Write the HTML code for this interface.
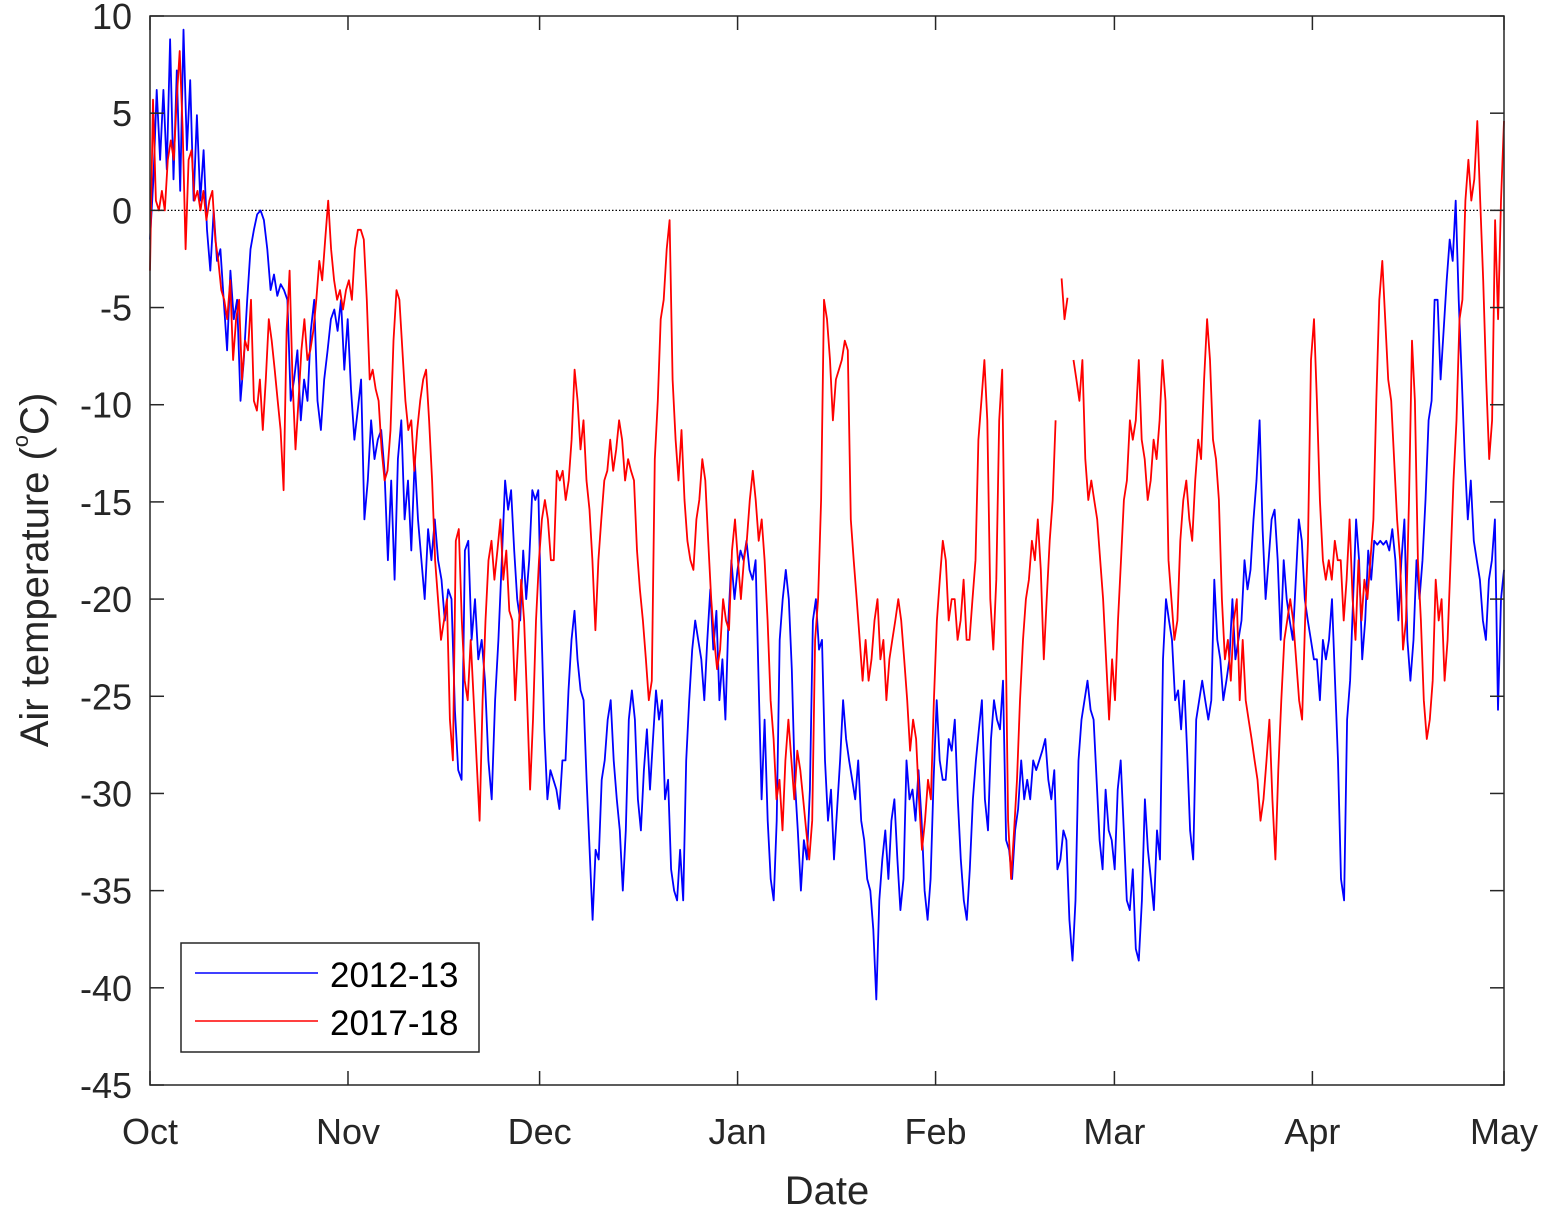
<!DOCTYPE html>
<html><head><meta charset="utf-8"><style>
html,body{margin:0;padding:0;background:#fff;}
svg{display:block;font-family:"Liberation Sans",Arial,sans-serif;}
</style></head><body>
<svg id="chart" width="1544" height="1207" viewBox="0 0 1544 1207" xmlns="http://www.w3.org/2000/svg">
<rect x="0" y="0" width="1544" height="1207" fill="#fff"/>
<g id="plot"></g>
<g id="axes"></g>
</svg>
<script>
const monthLabels = ["Oct","Nov","Dec","Jan","Feb","Mar","Apr","May"];
const monthDays = [0,31,61,92,123,151,182,212];
const yTicks = [10,5,0,-5,-10,-15,-20,-25,-30,-35,-40,-45];
const seriesNames = ["2012-13","2017-18"];
const blueTemps = [-1.5,1.6,6.2,2.6,6.2,2.1,8.8,1.6,7.2,1.0,9.3,3.1,6.7,0.5,4.9,0.5,3.1,-1.0,-3.1,0,-2.6,-2.0,-4.6,-7.2,-3.1,-5.6,-4.6,-9.8,-7.7,-4.6,-2.0,-1.0,-0.2,0,-0.5,-2.0,-4.1,-3.3,-4.4,-3.8,-4.1,-4.6,-9.8,-8.7,-7.2,-10.8,-8.7,-9.8,-6.2,-4.6,-9.8,-11.3,-8.7,-7.2,-5.6,-5.1,-6.2,-4.6,-8.2,-5.6,-9.2,-11.8,-10.3,-8.7,-15.9,-13.9,-10.8,-12.8,-11.8,-11.3,-13.4,-18.0,-13.9,-19.0,-12.8,-10.8,-15.9,-13.9,-17.5,-12.8,-15.9,-18.0,-20.0,-16.4,-18.0,-15.9,-18.0,-19.0,-21.1,-19.5,-20.0,-25.7,-28.8,-29.3,-17.5,-17.0,-22.1,-20.0,-23.1,-22.1,-24.2,-28.3,-30.3,-25.2,-22.1,-18.0,-13.9,-15.4,-14.4,-17.5,-20.0,-21.1,-17.5,-20.0,-18.0,-14.4,-14.9,-14.4,-21.1,-26.7,-30.3,-28.8,-29.3,-29.8,-30.8,-28.3,-28.3,-24.7,-22.1,-20.6,-23.1,-24.7,-25.2,-29.3,-32.9,-36.5,-32.9,-33.4,-29.3,-28.3,-26.2,-25.2,-28.3,-30.3,-31.9,-35.0,-31.9,-26.2,-24.7,-26.2,-30.3,-31.9,-28.8,-26.7,-29.8,-27.2,-24.7,-26.2,-25.2,-30.3,-29.3,-33.9,-35.0,-35.5,-32.9,-35.5,-28.3,-25.2,-22.6,-21.1,-22.1,-23.1,-25.2,-22.1,-19.5,-22.6,-20.6,-25.2,-23.1,-26.2,-21.1,-18.0,-20.0,-18.5,-17.5,-18.0,-17.0,-18.5,-19.0,-18.0,-24.2,-30.3,-26.2,-31.4,-34.4,-35.5,-31.4,-22.1,-20.0,-18.5,-20.0,-23.6,-29.3,-31.9,-35.0,-32.4,-33.4,-29.8,-21.1,-20.0,-22.6,-22.1,-28.3,-31.4,-29.8,-33.4,-30.8,-28.3,-25.2,-27.2,-28.3,-29.3,-30.3,-28.3,-31.4,-32.4,-34.4,-35.0,-37.0,-40.6,-35.5,-33.4,-31.9,-34.4,-31.4,-30.3,-33.4,-36.0,-34.4,-28.3,-30.3,-29.8,-31.4,-28.8,-31.4,-35.0,-36.5,-34.4,-29.3,-25.2,-28.3,-29.3,-29.3,-27.2,-27.8,-26.2,-30.3,-33.4,-35.5,-36.5,-33.9,-30.3,-28.3,-26.7,-25.2,-30.3,-31.9,-27.2,-25.2,-26.2,-26.7,-24.2,-32.4,-32.9,-34.4,-31.9,-30.8,-28.3,-30.3,-29.3,-30.3,-28.3,-28.8,-28.3,-27.8,-27.2,-29.3,-30.3,-28.8,-33.9,-33.4,-31.9,-32.4,-36.5,-38.6,-35.5,-28.3,-26.2,-25.2,-24.2,-25.7,-26.2,-29.3,-32.4,-33.9,-29.8,-31.9,-32.4,-33.9,-29.8,-28.3,-31.9,-35.5,-36.0,-33.9,-38.0,-38.6,-35.5,-30.3,-32.9,-34.4,-36.0,-31.9,-33.4,-23.1,-20.0,-21.1,-22.1,-25.2,-24.7,-26.7,-24.2,-27.8,-31.9,-33.4,-26.2,-25.2,-24.2,-25.2,-26.2,-25.2,-19.0,-22.1,-23.1,-25.2,-24.2,-23.1,-20.0,-23.1,-22.1,-21.1,-18.0,-19.5,-18.5,-15.9,-13.9,-10.8,-16.4,-20.0,-18.0,-15.9,-15.4,-18.0,-22.1,-18.0,-20.0,-21.1,-22.1,-19.0,-15.9,-17.0,-20.0,-21.1,-22.1,-23.1,-23.1,-25.2,-22.1,-23.1,-22.1,-20.0,-24.2,-28.3,-34.4,-35.5,-26.2,-24.2,-20.0,-15.9,-18.0,-23.1,-21.1,-17.5,-19.0,-17.0,-17.2,-17.0,-17.2,-17.0,-17.5,-16.4,-18.0,-21.1,-18.0,-15.9,-22.1,-24.2,-22.1,-18.0,-20.0,-18.0,-14.9,-10.8,-9.8,-4.6,-4.6,-8.7,-6.2,-3.6,-1.5,-2.6,0.5,-4.6,-8.7,-12.8,-15.9,-13.9,-17.0,-18.0,-19.0,-21.1,-22.1,-19.0,-18.0,-15.9,-25.7,-20.0,-18.5];
const redTemps = [-3.1,5.7,0.5,0,1.0,0,2.6,3.6,2.6,5.7,8.2,4.1,-2.0,2.6,3.1,0.5,1.0,0,1.0,-0.5,0.5,1.0,-1.5,-2.6,-4.1,-4.6,-5.6,-3.6,-7.7,-5.6,-4.6,-8.7,-6.7,-7.2,-4.6,-9.8,-10.3,-8.7,-11.3,-8.7,-5.6,-6.7,-8.2,-9.8,-11.3,-14.4,-6.2,-3.1,-8.7,-12.3,-9.8,-7.2,-5.6,-7.7,-7.2,-6.2,-4.6,-2.6,-3.6,-1.5,0.5,-2.0,-3.6,-4.6,-4.1,-5.1,-4.1,-3.6,-4.6,-2.0,-1.0,-1.0,-1.5,-4.6,-8.7,-8.2,-9.2,-9.8,-12.3,-13.9,-13.4,-11.3,-6.7,-4.1,-4.6,-7.2,-9.8,-11.3,-10.8,-13.4,-11.3,-9.8,-8.7,-8.2,-10.8,-13.9,-18.0,-20.0,-22.1,-21.1,-20.0,-26.2,-28.3,-17.0,-16.4,-21.1,-24.2,-25.2,-22.1,-25.2,-28.3,-31.4,-25.2,-21.1,-18.0,-17.0,-19.0,-17.5,-15.9,-19.0,-17.5,-20.6,-21.1,-25.2,-22.1,-19.0,-21.1,-25.2,-29.8,-26.2,-21.1,-18.0,-15.9,-14.9,-15.9,-18.0,-18.0,-13.4,-13.9,-13.4,-14.9,-13.9,-11.8,-8.2,-9.8,-12.3,-10.8,-13.9,-15.4,-18.0,-21.6,-18.0,-15.9,-13.9,-13.4,-11.8,-13.4,-12.3,-10.8,-11.8,-13.9,-12.8,-13.4,-13.9,-17.5,-19.5,-21.1,-23.1,-25.2,-24.2,-12.8,-9.8,-5.6,-4.6,-2.0,-0.5,-8.7,-11.8,-13.9,-11.3,-14.9,-17.0,-18.0,-18.5,-15.9,-14.9,-12.8,-13.9,-17.0,-20.0,-22.1,-23.6,-22.6,-20.0,-21.1,-21.6,-17.5,-15.9,-18.0,-20.0,-18.0,-17.0,-14.9,-13.4,-14.9,-17.0,-15.9,-18.0,-21.1,-25.2,-27.2,-30.3,-29.3,-31.9,-28.3,-26.2,-28.3,-30.3,-27.8,-28.8,-30.3,-31.9,-33.4,-31.4,-22.1,-20.0,-14.9,-4.6,-5.6,-7.7,-10.8,-8.7,-8.2,-7.7,-6.7,-7.2,-15.9,-18.0,-20.0,-22.1,-24.2,-22.1,-24.2,-23.1,-21.1,-20.0,-23.1,-22.1,-25.2,-23.1,-22.1,-21.1,-20.0,-21.1,-23.1,-25.2,-27.8,-26.2,-27.2,-30.3,-32.9,-31.4,-29.3,-30.3,-25.2,-21.1,-19.0,-17.0,-18.0,-21.1,-20.0,-20.0,-22.1,-21.1,-19.0,-22.1,-22.1,-20.0,-18.0,-11.8,-9.8,-7.7,-10.8,-20.0,-22.6,-19.0,-10.8,-8.2,-20.0,-31.4,-34.4,-31.9,-29.3,-25.2,-22.1,-20.0,-19.0,-17.0,-18.0,-15.9,-18.5,-23.1,-20.0,-17.0,-14.9,-10.8,null,-3.5,-5.6,-4.5,null,-7.7,-8.7,-9.8,-7.7,-12.8,-14.9,-13.9,-14.9,-15.9,-18.0,-20.0,-23.1,-26.2,-23.1,-25.2,-21.1,-18.0,-14.9,-13.9,-10.8,-11.8,-10.8,-7.7,-11.8,-12.8,-14.9,-13.9,-11.8,-12.8,-10.8,-7.7,-9.8,-18.0,-20.0,-22.1,-21.1,-17.0,-14.9,-13.9,-15.9,-17.0,-13.9,-11.8,-12.8,-8.7,-5.6,-7.7,-11.8,-12.8,-14.9,-20.0,-23.1,-22.1,-24.2,-21.1,-20.0,-25.2,-22.1,-25.2,-26.2,-27.2,-28.3,-29.3,-31.4,-30.3,-28.3,-26.2,-30.3,-33.4,-28.8,-25.2,-22.1,-21.1,-20.0,-21.1,-23.1,-25.2,-26.2,-21.1,-17.0,-7.7,-5.6,-9.8,-14.9,-18.0,-19.0,-18.0,-19.0,-17.0,-18.0,-18.0,-21.1,-19.0,-15.9,-20.0,-22.1,-18.0,-21.1,-19.0,-20.0,-18.0,-15.9,-9.8,-4.6,-2.6,-5.6,-8.7,-9.8,-12.8,-15.9,-18.0,-22.6,-21.1,-14.9,-6.7,-9.8,-18.0,-21.1,-25.2,-27.2,-26.2,-24.2,-19.0,-21.1,-20.0,-24.2,-22.1,-18.0,-13.9,-10.8,-5.6,-4.6,0.5,2.6,0.5,1.6,4.6,0.5,-3.6,-8.7,-12.8,-10.8,-0.5,-5.6,0.5,4.6];
// time-axis knots: sample index -> day of season
const blueKnotIdx = [0,106];
const blueKnotDay = [0,55.6];

const X0=150,X1=1504,Y0=16,Y1=1085,DMAX=212,TMAX=10,TMIN=-45;
const xs = d => X0 + (d/DMAX)*(X1-X0);
const ys = t => Y0 + (TMAX-t)/(TMAX-TMIN)*(Y1-Y0);
const NS="http://www.w3.org/2000/svg";
const plot=document.getElementById('plot'), axes=document.getElementById('axes');
function mk(tag, parent){const e=document.createElementNS(NS,tag);parent.appendChild(e);return e;}

const zl=mk('line',plot);


zl.setAttribute('x1',X0);zl.setAttribute('x2',X1);zl.setAttribute('y1',ys(0));zl.setAttribute('y2',ys(0));
zl.setAttribute('stroke','#000');zl.setAttribute('stroke-width','1.2');zl.setAttribute('stroke-dasharray','1.5,2');

function dayOf(i,n,ki,kd){
  const K=ki.concat([n-1]), D=kd.concat([DMAX]);
  for(let k=0;k<K.length-1;k++){ if(i<=K[k+1]) return D[k]+(i-K[k])/(K[k+1]-K[k])*(D[k+1]-D[k]); }
  return DMAX;
}
function pathFor(arr,ki,kd){
  const n=arr.length;let d='',pen=false;
  arr.forEach((v,i)=>{
    if(v===null){pen=false;return;}
    const x=xs(dayOf(i,n,ki,kd)), y=ys(v);
    d+=(pen?'L':'M')+x.toFixed(1)+','+y.toFixed(1);pen=true;
  });
  return d;
}
const pb=mk('path',plot);


pb.setAttribute('d',pathFor(blueTemps,blueKnotIdx,blueKnotDay));pb.setAttribute('fill','none');pb.setAttribute('stroke','#0000ff');pb.setAttribute('stroke-width','1.8');pb.setAttribute('stroke-linejoin','round');
const pr=mk('path',plot);


pr.setAttribute('d',pathFor(redTemps,[0],[0]));pr.setAttribute('fill','none');pr.setAttribute('stroke','#ff0000');pr.setAttribute('stroke-width','1.8');pr.setAttribute('stroke-linejoin','round');

const fr=mk('rect',axes);


fr.setAttribute('x',X0);fr.setAttribute('y',Y0);fr.setAttribute('width',X1-X0);fr.setAttribute('height',Y1-Y0);
fr.setAttribute('fill','none');fr.setAttribute('stroke','#262626');fr.setAttribute('stroke-width','1.5');

const TL=14;
yTicks.forEach(t=>{
  const y=ys(t);
  [[X0,X0+TL],[X1,X1-TL]].forEach(p=>{
    const l=mk('line',axes);
    
    
    l.setAttribute('x1',p[0]);l.setAttribute('x2',p[1]);l.setAttribute('y1',y);l.setAttribute('y2',y);l.setAttribute('stroke','#262626');l.setAttribute('stroke-width','1.5');
  });
  const tx=mk('text',axes);
  
  
  tx.setAttribute('x',132);tx.setAttribute('y',y+13);tx.setAttribute('text-anchor','end');tx.setAttribute('font-size','36');tx.setAttribute('fill','#262626');
  tx.textContent=String(t);
});
monthDays.forEach((d,i)=>{
  const x=xs(d);
  [[Y1,Y1-TL],[Y0,Y0+TL]].forEach(p=>{
    const l=mk('line',axes);
    
    
    l.setAttribute('x1',x);l.setAttribute('x2',x);l.setAttribute('y1',p[0]);l.setAttribute('y2',p[1]);l.setAttribute('stroke','#262626');l.setAttribute('stroke-width','1.5');
  });
  const tx=mk('text',axes);
  
  
  tx.setAttribute('x',x);tx.setAttribute('y',1144);tx.setAttribute('text-anchor','middle');tx.setAttribute('font-size','36');tx.setAttribute('fill','#262626');
  tx.textContent=monthLabels[i];
});
</script>
<svg style="position:absolute;left:0;top:0" width="1544" height="1207" xmlns="http://www.w3.org/2000/svg" font-family="Liberation Sans, Arial, sans-serif">
<text x="827" y="1204" text-anchor="middle" font-size="40" fill="#262626">Date</text>
<text transform="translate(48,570) rotate(-90)" text-anchor="middle" font-size="40" fill="#262626">Air  temperature (<tspan font-size="22" dy="-20">o</tspan><tspan dy="20">C)</tspan></text>
<g>
<rect x="181" y="943" width="298" height="109" fill="#fff" stroke="#262626" stroke-width="1.5"/>
<line x1="195" y1="973" x2="318" y2="973" stroke="#0000ff" stroke-width="1.5"/>
<text x="330" y="987" font-size="35" fill="#000">2012-13</text>
<line x1="195" y1="1021" x2="318" y2="1021" stroke="#ff0000" stroke-width="1.5"/>
<text x="330" y="1035" font-size="35" fill="#000">2017-18</text>
</g>
</svg>
</body></html>
